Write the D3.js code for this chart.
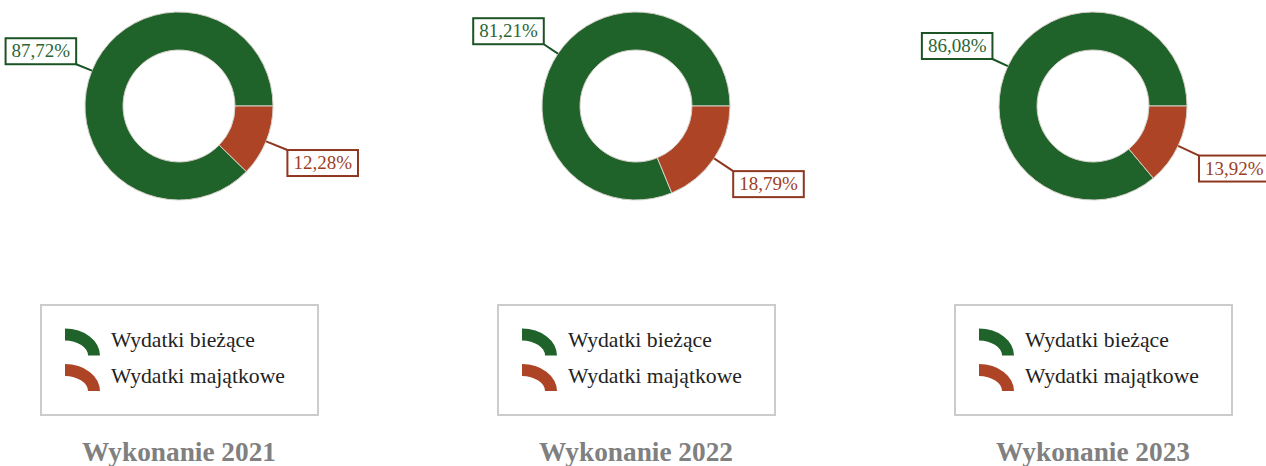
<!DOCTYPE html>
<html>
<head>
<meta charset="utf-8">
<script src="https://cdn.jsdelivr.net/npm/d3@7"></script>
<style>
  html, body { margin: 0; padding: 0; background: #fff; }
  svg { display: block; }
</style>
</head>
<body>
<svg id="chart" width="1266" height="466"></svg>
<script>
// ---- data ----
const years = ["Wykonanie 2021", "Wykonanie 2022", "Wykonanie 2023"];
const categories = ["Wydatki bieżące", "Wydatki majątkowe"];
const wydatkiBiezace = [87.72, 81.21, 86.08];
const wydatkiMajatkowe = [12.28, 18.79, 13.92];

// ---- styles ----
const fillColors = ["#1f622a", "#ad4426"];
const lineColors = ["#1b5424", "#8e3720"];
const textColors = ["#2a6633", "#9c3d24"];
const FONT = "'Liberation Serif', 'Times New Roman', serif";

const svg = d3.select("#chart");

const xCenter = d3.scalePoint().domain(years).range([179, 1093]);
const cy = 106;
const rOuter = 94, rInner = 56;

const pl = d3.formatLocale({decimal: ",", thousands: " ", grouping: [3], currency: ["", " zł"]});
const fmt = v => pl.format(".2f")(v) + "%";

const pie = d3.pie().sort(null).value(d => d.value)
  .startAngle(Math.PI / 2).endAngle(Math.PI / 2 - 2 * Math.PI);
const arc = d3.arc().innerRadius(rInner).outerRadius(rOuter);

years.forEach((yr, i) => {
  const cx = xCenter(yr);
  const data = categories.map((c, k) => ({
    cat: c, k,
    value: k === 0 ? wydatkiBiezace[i] : wydatkiMajatkowe[i]
  }));
  const arcs = pie(data);
  const g = svg.append("g").attr("transform", `translate(${cx},${cy})`);

  g.selectAll("path.slice").data(arcs).join("path")
    .attr("class", "slice")
    .attr("d", arc)
    .attr("fill", d => fillColors[d.data.k])
    .attr("stroke", "#d4d0c8")
    .attr("stroke-width", 1);

  // labels
  arcs.forEach(d => {
    const a = (d.startAngle + d.endAngle) / 2;
    const sx = Math.sin(a), sy = -Math.cos(a);
    const left = sx < 0;
    const rEnd = left ? 111 : 117;
    const p0 = [sx * rOuter, sy * rOuter];
    const p1 = [sx * rEnd, sy * rEnd];
    const k = d.data.k;

    g.append("line")
      .attr("x1", p0[0]).attr("y1", p0[1])
      .attr("x2", p1[0]).attr("y2", p1[1])
      .attr("stroke", lineColors[k]).attr("stroke-width", 2);

    const lg = g.append("g");
    const rect = lg.append("rect")
      .attr("fill", "#fff")
      .attr("stroke", lineColors[k]).attr("stroke-width", 2);
    const txt = lg.append("text")
      .attr("font-family", FONT).attr("font-size", 19)
      .attr("fill", textColors[k])
      .text(fmt(d.data.value));
    const tw = txt.node().getComputedTextLength();
    const bw = tw + 12, bh = 26;
    const bx = left ? p1[0] - bw : p1[0];
    const by = left ? p1[1] - bh : p1[1];
    rect.attr("x", bx).attr("y", by).attr("width", bw).attr("height", bh);
    txt.attr("x", bx + 6).attr("y", by + 19);
  });

  // legend
  const lx = cx - 138, ly = 305;
  svg.append("rect")
    .attr("x", lx).attr("y", ly).attr("width", 277).attr("height", 110)
    .attr("fill", "none").attr("stroke", "#cccccc").attr("stroke-width", 2);

  categories.forEach((c, k) => {
    const base = 347 + k * 35.5;
    const ix = lx + 24, iy = base + 8.5;
    svg.append("path")
      .attr("d", `M${ix},${iy - 27} A35,27 0 0 1 ${ix + 35},${iy} L${ix + 23},${iy} A23,15 0 0 0 ${ix},${iy - 15} Z`)
      .attr("fill", fillColors[k]);
    svg.append("text")
      .attr("x", lx + 70).attr("y", base)
      .attr("font-family", FONT).attr("font-size", 21.7)
      .attr("fill", "#222")
      .text(c);
  });

  // title
  svg.append("text")
    .attr("x", cx).attr("y", 461)
    .attr("text-anchor", "middle")
    .attr("font-family", FONT).attr("font-size", 27.3).attr("font-weight", "bold")
    .attr("fill", "#808080")
    .text(yr);
});
</script>
</body>
</html>
